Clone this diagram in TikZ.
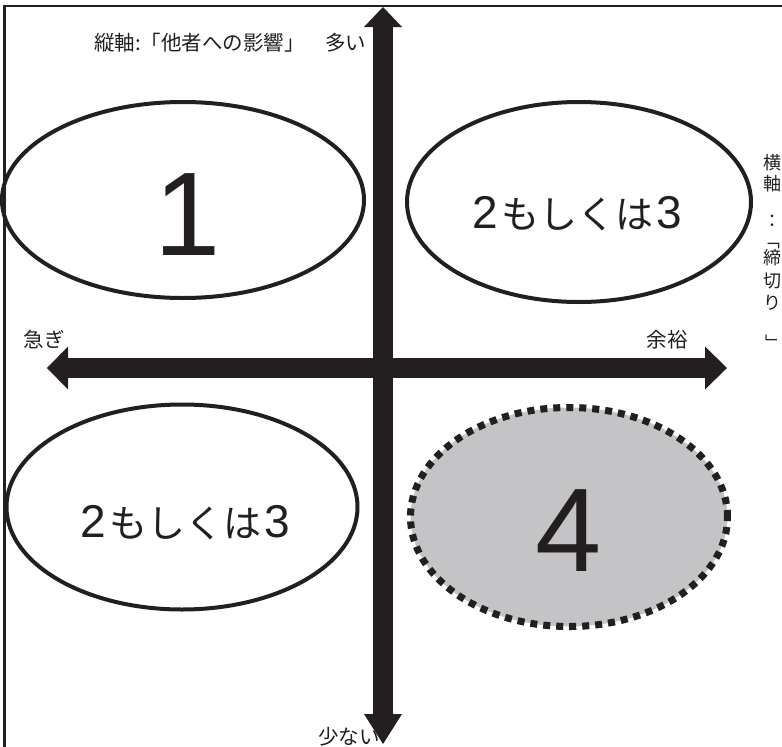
\documentclass[tikz,border=0pt]{standalone}
\usepackage{fontspec}
\setmainfont{Noto Sans CJK JP}
\newfontfamily\numfont{Liberation Sans}
\usetikzlibrary{arrows.meta,shapes.geometric}
\definecolor{ink}{HTML}{231F20}
\definecolor{shade}{HTML}{C4C4C6}
\definecolor{rim}{HTML}{D4D4D6}

% "2 or 3" caption: sans digits around the kana
\newcommand\orlabel{{\numfont\fontsize{46}{50}\selectfont 2}\hspace{3pt}{\fontsize{38}{42}\selectfont もしくは}\hspace{3pt}{\numfont\fontsize{46}{50}\selectfont 3}}

\begin{document}
\begin{tikzpicture}[x=1pt,y=-1pt,
  quad/.style={ellipse, draw=ink, line width=4pt, inner sep=0pt},
  bignum/.style={anchor=base, text=ink, inner sep=0pt, font={\numfont\fontsize{119}{120}\selectfont}},
  midtext/.style={anchor=base, text=ink, inner sep=0pt},
  axis/.style={draw=ink, line width=20pt},
  lbl/.style={text=ink, font=\fontsize{20.5}{22}\selectfont, inner sep=0pt},
  vchar/.style={text=ink, font=\fontsize{18}{20}\selectfont, inner sep=0pt},
  ]
\useasboundingbox (0,0) rectangle (782,747);
\fill[white] (0,0) rectangle (782,747);

% frame (open on the right and at the bottom)
\draw[ink, line width=2.5pt] (4.5,747) -- (4.5,6) -- (782,6);

% the four quadrants
\node[quad, minimum width=362pt, minimum height=196pt] (q1) at (183,200) {};
\node[quad, minimum width=344pt, minimum height=200pt] (q2) at (579,202) {};
\node[quad, minimum width=351pt, minimum height=205pt] (q3) at (182,507) {};
\node[ellipse, inner sep=0pt, minimum width=317pt, minimum height=219pt,
      fill=shade, draw=ink, line width=7pt, dash pattern=on 7pt off 6pt,
      preaction={draw=rim, line width=7pt}] (q4) at (569,517) {};

\node[bignum] (t1) at (188,255) {1};
\node[midtext] (t2) at (577,228) {\orlabel};
\node[midtext] (t3) at (185,537) {\orlabel};
\node[bignum] (t4) at (569,571) {4};

% axes
\coordinate (vtop) at (383,7);
\coordinate (vbot) at (383,744);
\coordinate (hleft) at (47,368);
\coordinate (hright) at (727,368);
\draw[axis, {Triangle[width=38pt,length=30pt,line width=0pt]}-{Triangle[width=38pt,length=20pt,line width=0pt]}] (vbot) -- (vtop);
\draw[axis, {Triangle[width=43pt,length=21pt,line width=0pt]}-{Triangle[width=43pt,length=22pt,line width=0pt]}] (hleft) -- (hright);

% axis labels
\node[lbl, anchor=west] (vlabel) at (94,43) {縦軸:「他者への影響」　多い};
\node[lbl] (fast) at (44,340) {急ぎ};
\node[lbl] (slack) at (667,340) {余裕};
\node[lbl] (few) at (349,737) {少ない};

% vertical caption of the horizontal axis (brackets turned for vertical setting)
\node[vchar] (hc1) at (772,163) {横};
\node[vchar] (hc2) at (772,184) {軸};
\node[vchar] (hc3) at (772,221) {：};
\node[vchar, rotate=-90] (hc4) at (772,240) {「};
\node[vchar] (hc5) at (772,258) {締};
\node[vchar] (hc6) at (772,281) {切};
\node[vchar] (hc7) at (772,303) {り};
\node[vchar, rotate=-90] (hc8) at (772,343) {」};
\end{tikzpicture}
\end{document}
